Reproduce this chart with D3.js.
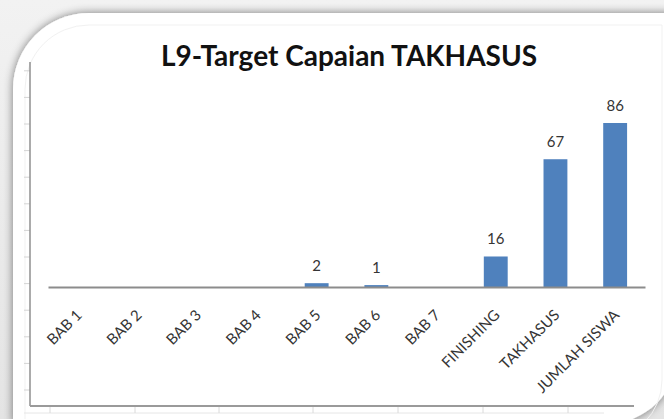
<!DOCTYPE html>
<html>
<head>
<meta charset="utf-8">
<script src="https://cdn.jsdelivr.net/npm/d3@7"></script>
<style>
  html, body { margin: 0; padding: 0; background: #ececec; }
  svg { display: block; }
</style>
</head>
<body>
<svg id="chart" width="664" height="419"></svg>
<script>
// ---- data ----
const chartTitle = "L9-Target Capaian TAKHASUS";
const categories = ["BAB 1", "BAB 2", "BAB 3", "BAB 4", "BAB 5", "BAB 6", "BAB 7", "FINISHING", "TAKHASUS", "JUMLAH SISWA"];
const values = [null, null, null, null, 2, 1, null, 16, 67, 86];
const yDomainMax = 100;
// decorative frame (background chart) ticks
const frameLeftTicks = d3.range(0, 13);
const frameBottomTicks = [50, 135, 219, 313, 398, 483, 568];

const svg = d3.select("#chart");
const W = 664, H = 419;

// ---- defs: shadow ----
const defs = svg.append("defs");
const f = defs.append("filter").attr("id", "shadow").attr("x", "-10%").attr("y", "-10%").attr("width", "120%").attr("height", "120%");
f.append("feGaussianBlur").attr("in", "SourceAlpha").attr("stdDeviation", 5).attr("result", "b");
f.append("feComponentTransfer").attr("in", "b").attr("result", "s")
  .append("feFuncA").attr("type", "linear").attr("slope", 0.5);
const m = f.append("feMerge");
m.append("feMergeNode").attr("in", "s");
m.append("feMergeNode").attr("in", "SourceGraphic");

const bgGrad = defs.append("linearGradient").attr("id", "bg").attr("x1", 0).attr("y1", 0).attr("x2", 0).attr("y2", 1);
bgGrad.append("stop").attr("offset", "0%").attr("stop-color", "#f2f2f2");
bgGrad.append("stop").attr("offset", "100%").attr("stop-color", "#e4e4e4");

svg.append("rect").attr("width", W).attr("height", H).attr("fill", "url(#bg)");

// ---- card ----
function cardPath(x0, y0, x1, y1, rTL, rBR) {
  const p = d3.path();
  p.moveTo(x0, y0 + rTL);
  p.arcTo(x0, y0, x0 + rTL, y0, rTL);
  p.lineTo(x1, y0);
  p.lineTo(x1, y1 - rBR);
  p.arcTo(x1, y1, x1 - rBR, y1, rBR);
  p.lineTo(x0, y1);
  p.closePath();
  return p.toString();
}
svg.append("path")
  .attr("d", cardPath(13, 13, 678, 424, 76, 72))
  .attr("fill", "#ffffff")
  .attr("filter", "url(#shadow)");
svg.append("path")
  .attr("d", cardPath(25, 25, 662, 440, 64, 60))
  .attr("fill", "none")
  .attr("stroke", "#f1f1f1")
  .attr("stroke-width", 1);

// ---- decorative frame axes ----
const frameY = d3.scaleLinear().domain([0, 12]).range([390, 70.8]);
svg.append("g").selectAll("line").data(frameLeftTicks).join("line")
  .attr("x1", 24).attr("x2", 30)
  .attr("y1", d => frameY(d)).attr("y2", d => frameY(d))
  .attr("stroke", "#d4d4d4").attr("stroke-width", 1);
svg.append("line").attr("x1", 30).attr("x2", 30).attr("y1", 62).attr("y2", 406)
  .attr("stroke", "#8f8f8f").attr("stroke-width", 1.5);
svg.append("line").attr("x1", 24).attr("x2", 604).attr("y1", 413).attr("y2", 413)
  .attr("stroke", "#e6e6e6").attr("stroke-width", 1);
svg.append("g").selectAll("line").data(frameBottomTicks).join("line")
  .attr("x1", d => d).attr("x2", d => d).attr("y1", 407).attr("y2", 413)
  .attr("stroke", "#dadada").attr("stroke-width", 1);
svg.append("line").attr("x1", 30).attr("x2", 634).attr("y1", 406).attr("y2", 406)
  .attr("stroke", "#9a9a9a").attr("stroke-width", 2);

// ---- title ----
svg.append("text")
  .attr("x", 349).attr("y", 66)
  .attr("text-anchor", "middle")
  .attr("font-family", "Lato, 'Open Sans', sans-serif")
  .attr("font-weight", "bold")
  .attr("font-size", 28)
  .attr("fill", "#111")
  .text(chartTitle);

// ---- scales ----
const x = d3.scaleBand().domain(categories).range([48, 645]).paddingInner(0.6).paddingOuter(0.3);
const y = d3.scaleLinear().domain([0, yDomainMax]).range([287, 96.3]);

const data = categories.map((c, i) => ({ c, v: values[i] }));

// bars
svg.append("g").selectAll("rect").data(data.filter(d => d.v != null)).join("rect")
  .attr("x", d => x(d.c))
  .attr("width", x.bandwidth())
  .attr("y", d => y(d.v))
  .attr("height", d => y(0) - y(d.v))
  .attr("fill", "#4f81bd");

// x axis
const xAxis = d3.axisBottom(x).tickSize(0).tickFormat("");
const gx = svg.append("g").attr("transform", `translate(0,${y(0)})`).call(xAxis);
gx.select(".domain").attr("stroke", "#8c8c8c").attr("stroke-width", 2);

// category labels
svg.append("g").selectAll("text").data(categories).join("text")
  .attr("transform", d => `translate(${x(d) + x.bandwidth() / 2 + 5},${y(0) + 29}) rotate(-45)`)
  .attr("text-anchor", "end")
  .attr("font-family", "Lato, 'Open Sans', sans-serif")
  .attr("font-size", 15)
  .attr("fill", "#353535")
  .text(d => d);

// value labels
svg.append("g").selectAll("text").data(data.filter(d => d.v != null)).join("text")
  .attr("x", d => x(d.c) + x.bandwidth() / 2)
  .attr("y", d => y(d.v) - 12)
  .attr("text-anchor", "middle")
  .attr("font-family", "Lato, 'Open Sans', sans-serif")
  .attr("font-size", 15)
  .attr("fill", "#353535")
  .text(d => d.v);
</script>
</body>
</html>
